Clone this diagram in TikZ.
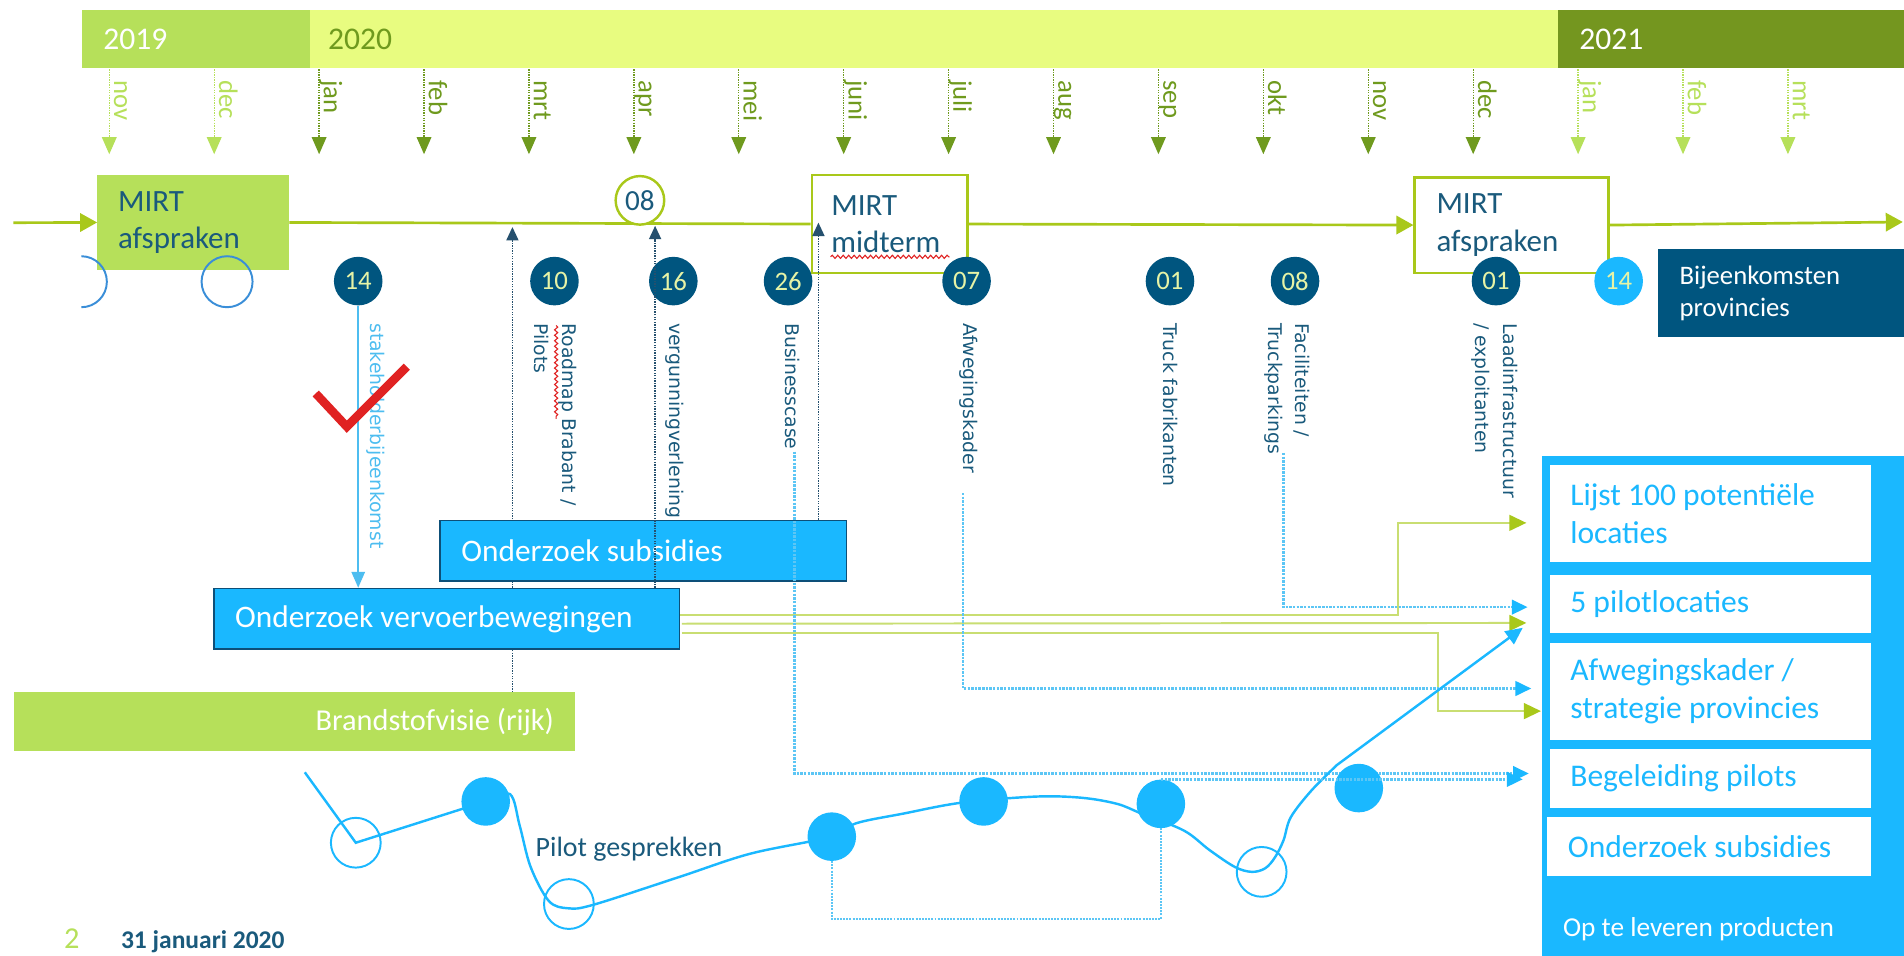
\documentclass[tikz,border=0pt]{standalone}
\usepackage{fontspec}
\setmainfont{Carlito}
\newfontfamily\lblfont{DejaVu Sans}
\usetikzlibrary{arrows.meta,decorations.pathmorphing,calc}
\newcommand{\fs}[2]{\fontsize{#1bp}{#2bp}\selectfont}
\definecolor{lgreen}{HTML}{B6E05A}
\definecolor{pyellow}{HTML}{E8FC80}
\definecolor{olive}{HTML}{74961F}
\definecolor{olivearr}{HTML}{6F9A1E}
\definecolor{lime}{HTML}{A9C81A}
\definecolor{dblue}{HTML}{00557F}
\definecolor{tblue}{HTML}{1A5A7C}
\definecolor{sky}{HTML}{1AB8FF}
\definecolor{numtxt}{HTML}{E6F3A6}
\definecolor{paleg}{HTML}{C9DE72}
\definecolor{lbline}{HTML}{5CC6F5}
\definecolor{slbl}{HTML}{4DBDF0}
\definecolor{circblue}{HTML}{3A8ED8}
\definecolor{checkred}{HTML}{E02222}
\definecolor{boxedge}{HTML}{0D4F78}
\definecolor{dkline}{HTML}{25506E}
\pgfdeclarelayer{back}
\pgfdeclarelayer{bg}
\pgfsetlayers{back,bg,main}
\begin{document}
\begin{tikzpicture}[x=1bp,y=-1bp,
  yearbar/.style={anchor=north west, minimum height=48bp, inner ysep=0bp, align=flush left, font=\fs{26}{30}},
  mirt/.style={anchor=north west, inner ysep=0bp, align=flush left, text=tblue, font=\fs{25.5}{31}},
  numc/.style={circle, fill=dblue, text=numtxt, minimum size=40bp, inner sep=0bp, font=\fs{22}{24}},
  vlab/.style={rotate=-90, anchor=west, inner sep=0bp, align=flush left, text=tblue, font=\lblfont\fs{15.5}{23}},
  monthlbl/.style={rotate=-90, anchor=base west, inner sep=0bp, font=\fs{22}{24}},
  montharr/.style={line width=1.1bp, densely dotted, -{Triangle[width=12bp,length=14bp]}},
  tl/.style={draw=lime, line width=2.2bp},
  tlarr/.style={-{Triangle[width=15bp,length=14bp]}},
  tbox/.style={anchor=north west, fill=sky, draw=boxedge, line width=1.3bp, text=white, align=flush left, font=\fs{25.8}{30}, inner ysep=0bp},
  pbox/.style={anchor=north west, fill=white, text=sky, align=flush left, font=\fs{26}{31}, inner xsep=17bp, inner ysep=0bp},
  dkdot/.style={draw=dkline, line width=1.1bp, densely dotted, -{Triangle[width=10bp,length=11bp]}},
  lbdot/.style={draw=lbline, line width=2bp, densely dotted, -{Triangle[width=12bp,length=13bp,color=sky]}},
  gline/.style={draw=paleg, line width=1.6bp, -{Triangle[width=13bp,length=14bp,color=lime]}},
  pilot/.style={draw=sky, line width=2bp},
  fcirc/.style={circle, fill=sky, minimum size=40bp, inner sep=0bp},
  hcirc/.style={circle, draw=sky, line width=1.6bp, minimum size=41bp, inner sep=0bp},
  redwave/.style={draw=checkred, line width=0.9bp, decorate, decoration={snake, amplitude=1.3bp, segment length=4.5bp}}
]
\begin{pgfonlayer}{back}
\fill[white] (0,0) rectangle (1568,787);
\end{pgfonlayer}
\path[use as bounding box] (0,0) rectangle (1568,787);

% year bars
\node[yearbar, fill=lgreen, text=white, minimum width=188bp, text width=152bp, inner xsep=18bp] (y19) at (67,8) {2019};
\node[yearbar, fill=pyellow, text=olivearr, minimum width=1028bp, text width=998bp, inner xsep=15bp] (y20) at (255,8) {2020};
\node[yearbar, fill=olive, text=white, minimum width=285bp, text width=250bp, inner xsep=17.5bp] (y21) at (1283,8) {2021};

% months
\foreach \i/\m/\c in {0/nov/lgreen,1/dec/lgreen,2/jan/olivearr,3/feb/olivearr,4/mrt/olivearr,5/apr/olivearr,6/mei/olivearr,7/juni/olivearr,8/juli/olivearr,9/aug/olivearr,10/sep/olivearr,11/okt/olivearr,12/nov/olivearr,13/dec/olivearr,14/jan/lgreen,15/feb/lgreen,16/mrt/lgreen}{
  \coordinate (mt\i) at ({90+86.4*\i},57);
  \coordinate (mb\i) at ({90+86.4*\i},127);
  \draw[montharr, draw=\c, \c] (mt\i) -- (mb\i);
  \node[monthlbl, text=\c] (ml\i) at ({94+86.4*\i},66) {\m};
}

% MIRT boxes
\node[mirt, fill=lgreen, minimum width=158bp, minimum height=78bp, inner xsep=17bp, text width=124bp] (m1) at (80,144) {MIRT\\afspraken};
\node[mirt, fill=white, draw=lime, line width=2bp, minimum width=128bp, minimum height=81bp, inner xsep=16bp, text width=96bp] (mid) at (667.6,143) {MIRT\\midterm};
\node[mirt, fill=white, draw=lime, line width=2bp, minimum width=159.5bp, minimum height=78.7bp, inner xsep=18bp, text width=123.5bp] (m2) at (1164,145) {MIRT\\afspraken};
\draw[redwave] (684,211.5) -- (782,211.5);

\node[circle, draw=lime, line width=2bp, fill=white, minimum size=40bp, inner sep=0bp, text=tblue, font=\fs{24}{26}] (c08) at (527,165) {08};

\coordinate (tls) at (11,183.4);
\coordinate (tle) at (1567,182.8);
\coordinate (d1s) at (422,570);
\coordinate (d1e) at (422,187);

% activity boxes
\node[tbox, minimum width=334.6bp, minimum height=49.6bp, inner xsep=17.7bp, text width=299.2bp] (subs) at (361.7,428) {Onderzoek subsidies};
\node[tbox, minimum width=383.4bp, minimum height=50bp, inner xsep=17.6bp, text width=348.2bp] (vervoer) at (175.4,484) {Onderzoek vervoerbewegingen};
\node[anchor=north west, fill=lgreen, text=white, minimum width=462bp, minimum height=48bp, inner xsep=17bp, inner ysep=0bp, text width=428bp, align=flush right, font=\fs{25}{30}] (brand) at (11,570) {Brandstofvisie (rijk)};

\begin{pgfonlayer}{bg}
\draw[tl,tlarr] (tls) -- (m1.west);
\draw[tl] (m1.east) -- (mid.west);
\draw[tl,tlarr] (mid.east) -- (m2.west);
\draw[tl,tlarr] (m2.east) -- (tle);
\draw[dkdot] (d1s) -- (d1e);
\end{pgfonlayer}

% hollow circles near first MIRT box
\begin{scope}
\clip (67,200) rectangle (100,262);
\draw[circblue, line width=1.6bp] (67,232) circle[radius=21];
\end{scope}
\draw[circblue, line width=1.6bp] (187,232) circle[radius=21];

% numbered circles
\node[numc] (n14a) at (295,231.5) {14};
\node[numc] (n10) at (456.6,231.5) {10};
\node[numc] (n16) at (554.5,231.5) {16};
\node[numc] (n26) at (649,231.5) {26};
\node[numc] (n07) at (796,231.5) {07};
\node[numc] (n01a) at (963.5,231.5) {01};
\node[numc] (n08) at (1066.5,231.5) {08};
\node[numc] (n01b) at (1232,231.5) {01};
\node[numc, fill=sky] (n14b) at (1333,231.5) {14};

\node[anchor=north west, fill=dblue, text=white, minimum width=202.4bp, minimum height=73bp, inner xsep=17.4bp, inner ysep=0bp, text width=167.6bp, align=flush left, font=\fs{22}{26.5}] (bij) at (1365.6,204.7) {Bijeenkomsten\\provincies};

% vertical labels
\node[vlab, text=slbl] (lsth) at (309.5,266) {stakeholderbijeenkomst};
\node[vlab] (lroad) at (457.5,266) {Roadmap Brabant /\\Pilots};
\node[vlab] (lverg) at (555.7,266) {vergunningverlening};
\node[vlab] (lbus) at (652.3,266) {Businesscase};
\node[vlab] (lafw) at (797.5,266) {Afwegingskader};
\node[vlab] (ltruck) at (963.8,266) {Truck fabrikanten};
\node[vlab] (lfac) at (1060,266) {Faciliteiten /\\Truckparkings};
\node[vlab] (llaad) at (1231,266) {Laadinfrastructuur\\/ exploitanten};
\draw[redwave] (458,268) -- (458,345);

% connectors to the timeline
\coordinate (d2s) at (539.5,484);
\coordinate (d3s) at (674,428);
\draw[dkdot] (d2s) -- (d2s |- c08.south);
\draw[dkdot] (d3s) -- (d3s |- tls);
\draw[draw=slbl, line width=1.3bp, -{Triangle[width=11bp,length=13bp]}] (n14a.south) -- (n14a.south |- vervoer.north);

% check mark
\draw[checkred, line width=7bp, line join=miter] (260,324) -- (285.6,351.4) -- (335,302);

% products panel
\node[anchor=north west, fill=sky, minimum width=298bp, minimum height=412bp, inner sep=0bp] (prod) at (1270,375) {};
\node[pbox, text width=231bp, minimum height=80bp] (pb1) at (1276,383) {Lijst 100 potentiële\\locaties};
\node[pbox, text width=231bp, minimum height=48bp] (pb2) at (1276,473) {5 pilotlocaties};
\node[pbox, text width=231bp, minimum height=80bp] (pb3) at (1276,529) {Afwegingskader /\\strategie provincies};
\node[pbox, text width=231bp, minimum height=48bp] (pb4) at (1276,617) {Begeleiding pilots};
\node[pbox, text width=233bp, minimum height=48bp] (pb5) at (1274,673) {Onderzoek subsidies};
\node[anchor=base west, text=white, font=\fs{22.5}{26}, inner sep=0bp] (oplev) at (1287,771) {Op te leveren producten};

% arrow targets
\coordinate (tLijst) at (1257,430.6);
\coordinate (t5b) at (1258,500);
\coordinate (t5g) at (1257,513);
\coordinate (tAfwB) at (1261,567);
\coordinate (tAfwG) at (1269,585.6);
\coordinate (tBeg1) at (1259,637);
\coordinate (tBeg2) at (1254,641);
\coordinate (pe) at (1254,517);

% green connectors
\coordinate (g1s) at ($(vervoer.east)+(0,-3.5)$);
\coordinate (g2s) at ($(vervoer.east)+(1.5,4)$);
\coordinate (g3s) at ($(vervoer.east)+(1.5,11.5)$);
\coordinate (g1x) at (1151,0);
\coordinate (g3x) at (1184,0);
\draw[gline] (g1s) -- (g1s -| g1x) |- (tLijst);
\draw[gline] (g2s) -- (t5g);
\draw[gline] (g3s) -- (g3s -| g3x) |- (tAfwG);

% light blue dotted connectors
\coordinate (busS) at (654.4,372);
\coordinate (afwS) at (793,406);
\coordinate (facS) at (1057,373);
\draw[lbdot] (busS) |- (tBeg1);
\draw[lbdot] (afwS) |- (tAfwB);
\draw[lbdot] (facS) |- (t5b);

% pilot talks
\node[hcirc] (h1) at (293,694) {};
\node[hcirc] (h2) at (468.5,744.5) {};
\node[hcirc] (h3) at (1039,718) {};
\coordinate (ps) at (251,636);
\draw[pilot] (ps) -- (h1.center) -- (400,660);
\draw[pilot, -{Triangle[width=13bp,length=14bp]}] plot[smooth, tension=0.55] coordinates {(400,660) (420,654) (428,680) (437,714) (452,742) (468,748) (489,745) (560,722) (618,703) (685,689) (705,678) (744,670) (792,661) (853,656) (891,657) (920,662) (940,670) (975,684) (996,700) (1017,714) (1031,718) (1042,715) (1050,706) (1057,692) (1063,673) (1080,651) (1101,630)} -- (pe);
\node[fcirc] (f1) at (400,660) {};
\node[fcirc] (f2) at (685,689) {};
\node[fcirc] (f3) at (810,660) {};
\node[fcirc] (f4) at (956,662) {};
\node[fcirc] (f5) at (1119,649) {};
\coordinate (brk) at (0,757);
\draw[draw=lbline, line width=1.6bp, densely dotted] (f2.south) -- (f2.south |- brk) -| (f4.south);
\draw[lbdot] (f4.north) -- (f4.north -| tBeg2);
\node[anchor=base west, text=tblue, font=\fs{23}{27}, inner sep=0bp] (pilot) at (441,705) {Pilot gesprekken};

% footer
\node[anchor=base west, text=lgreen, font=\fs{25}{28}, inner sep=0bp] (pg) at (52.6,781) {2};
\node[anchor=base west, text=tblue, font=\bfseries\fs{21}{25}, inner sep=0bp] (date) at (99.5,781) {31 januari 2020};
\end{tikzpicture}
\end{document}
